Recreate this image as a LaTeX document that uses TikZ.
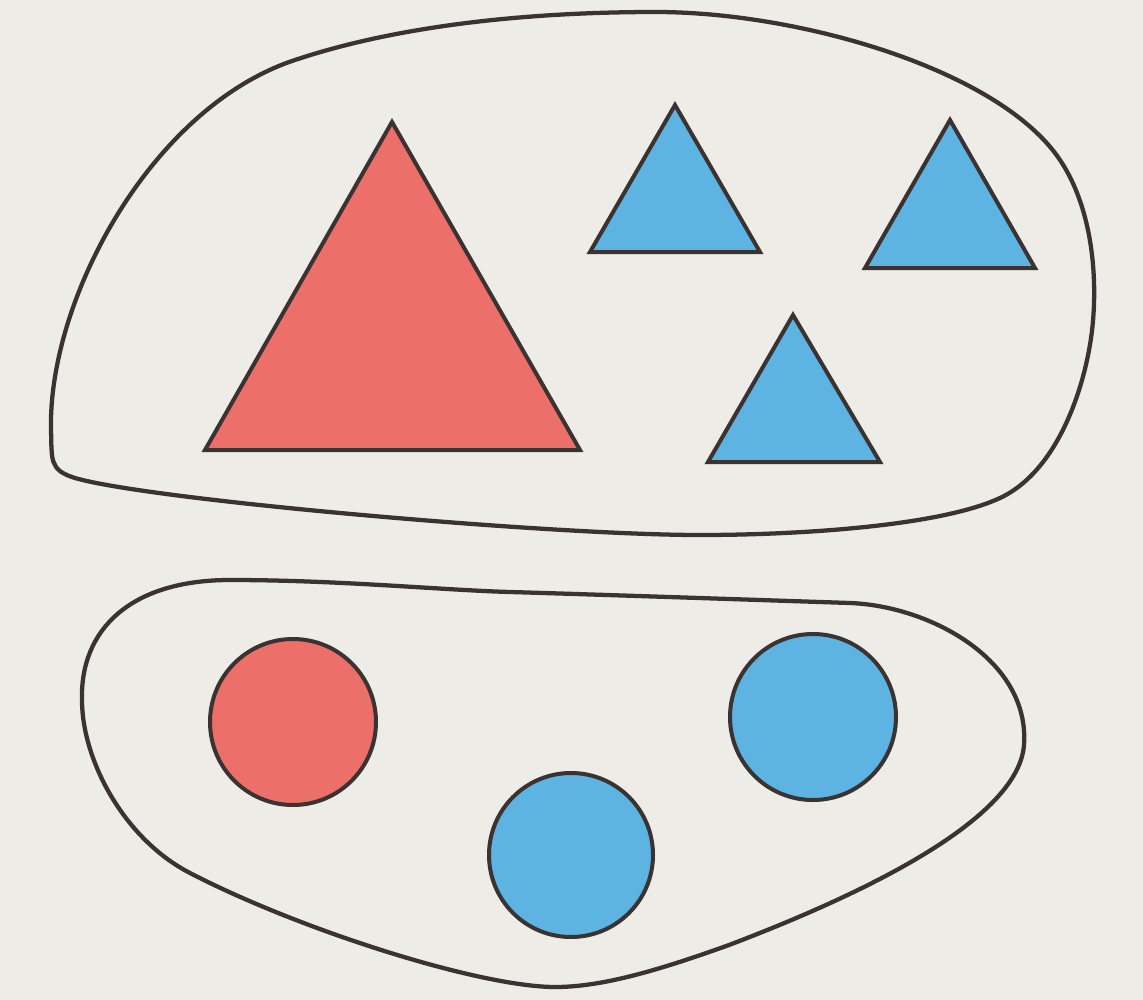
\documentclass[tikz,border=0pt]{standalone}
\definecolor{bg}{HTML}{EDECE7}
\definecolor{redf}{HTML}{EC6F6A}
\definecolor{bluef}{HTML}{5DB3E2}
\definecolor{ink}{HTML}{3A3332}
\tikzset{
  blob/.style={draw=ink, line width=3.2pt, fill=none},
  shapeline/.style={draw=ink, line width=3pt, line join=miter},
}
\begin{document}
\begin{tikzpicture}[x=0.75pt,y=-0.75pt]
\fill[bg] (0,0) rectangle (1143,1000);
\useasboundingbox (0,0) rectangle (1143,1000);
% upper blob
\draw[blob] (51,430)
  .. controls (48,300) and (150,110) .. (292,61)
  .. controls (392,27) and (520,12) .. (656,12)
  .. controls (800,12) and (1000,70) .. (1060,160)
  .. controls (1087,200) and (1098,260) .. (1093,321)
  .. controls (1088,380) and (1060,470) .. (1000,498)
  .. controls (940,526) and (800,535) .. (700,535)
  .. controls (550,535) and (150,500) .. (75,478)
  .. controls (49,470) and (52,460) .. cycle;
% lower blob
\draw[blob] (82,700)
  .. controls (80,630) and (130,580) .. (230,580)
  .. controls (340,580) and (440,590) .. (510,592)
  .. controls (580,594) and (760,600) .. (850,603)
  .. controls (930,606) and (1030,660) .. (1024,745)
  .. controls (1019,810) and (900,880) .. (729,945)
  .. controls (654,972) and (600,987) .. (555,987)
  .. controls (480,987) and (300,930) .. (190,873)
  .. controls (124,839) and (82,760) .. cycle;
% triangles
\path[shapeline, fill=redf] (205,450) -- (392,122) -- (580,450) -- cycle;
\path[shapeline, fill=bluef] (590,252) -- (675,105) -- (760,252) -- cycle;
\path[shapeline, fill=bluef] (865,268) -- (950,120) -- (1035,268) -- cycle;
\path[shapeline, fill=bluef] (708,462) -- (793,315) -- (880,462) -- cycle;
% circles
\path[shapeline, fill=redf] (293,722) circle[radius=83];
\path[shapeline, fill=bluef] (813,717) circle[radius=83];
\path[shapeline, fill=bluef] (571,855) circle[radius=82];
\end{tikzpicture}
\end{document}
